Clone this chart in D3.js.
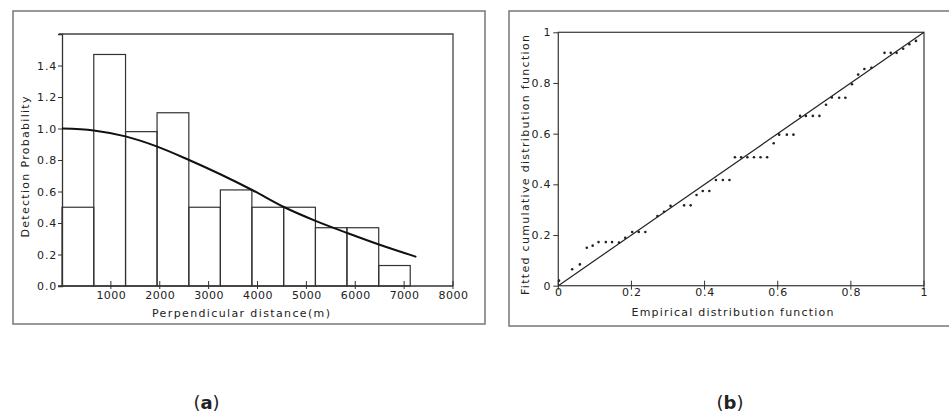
<!DOCTYPE html>
<html>
<head>
<meta charset="utf-8">
<script src="https://cdn.jsdelivr.net/npm/d3@7"></script>
<style>
  html, body { margin: 0; padding: 0; background: #fff; }
  svg { display: block; }
  text { font-family: "DejaVu Sans", sans-serif; fill: #222; }
</style>
</head>
<body>
<svg id="chart" width="949" height="414"></svg>
<script>
// ---------- Data: panel (a) histogram of perpendicular distances ----------
const binEdges = [0, 650, 1300, 1945, 2595, 3240, 3885, 4535, 5185, 5830, 6480, 7125];
const binValues = [0.50, 1.47, 0.98, 1.10, 0.50, 0.61, 0.50, 0.50, 0.37, 0.37, 0.13];
// fitted detection function
const curveDist = [0, 650, 1300, 1950, 2600, 3250, 3900, 4550, 5200, 5850, 6500, 7250];
const curveProb = [1.00, 0.988, 0.95, 0.885, 0.80, 0.708, 0.608, 0.50, 0.412, 0.335, 0.262, 0.185];
const yTicksA = [0, 0.2, 0.4, 0.6, 0.8, 1.0, 1.2, 1.4];
const xTicksA = [1000, 2000, 3000, 4000, 5000, 6000, 7000, 8000];

// ---------- Data: panel (b) P-P plot ----------
const empirical = [0.002,0.038,0.059,0.078,0.094,0.110,0.130,0.147,0.166,0.183,0.202,0.220,0.238,0.271,0.289,0.307,0.344,0.362,0.378,0.395,0.413,0.431,0.450,0.468,0.483,0.500,0.517,0.535,0.553,0.571,0.589,0.604,0.625,0.643,0.661,0.677,0.696,0.714,0.732,0.748,0.768,0.785,0.803,0.820,0.837,0.856,0.892,0.909,0.925,0.943,0.960,0.978];
const fitted = [0.02,0.065,0.084,0.15,0.158,0.172,0.172,0.172,0.170,0.189,0.212,0.212,0.212,0.275,0.292,0.315,0.317,0.317,0.358,0.374,0.374,0.417,0.417,0.417,0.507,0.507,0.507,0.507,0.507,0.507,0.562,0.596,0.596,0.596,0.670,0.670,0.670,0.670,0.714,0.743,0.742,0.742,0.795,0.833,0.855,0.860,0.919,0.919,0.919,0.935,0.953,0.966];
const ticksB = [0, 0.2, 0.4, 0.6, 0.8, 1];

const svg = d3.select("#chart");
const FS = 11;

// ================= Panel (a) =================
const A = { left: 62, right: 453, top: 34, bottom: 286 };
const xA = d3.scaleLinear().domain([0, 8000]).range([A.left, A.right]);
const yA = d3.scaleLinear().domain([0, 1.6]).range([A.bottom, A.top]);

// outer panel border
svg.append("rect").attr("x", 13).attr("y", 11).attr("width", 472).attr("height", 313)
  .attr("fill", "none").attr("stroke", "#777").attr("stroke-width", 1.5);

// plot frame
svg.append("path")
  .attr("d", `M${A.left - 3},${A.top}H${A.right}V${A.bottom}`)
  .attr("fill", "none").attr("stroke", "#444").attr("stroke-width", 1.3);

// histogram bars
const bins = binValues.map((v, i) => ({ x0: binEdges[i], x1: binEdges[i + 1], v }));
svg.append("g").selectAll("rect").data(bins).join("rect")
  .attr("x", d => xA(d.x0)).attr("width", d => xA(d.x1) - xA(d.x0))
  .attr("y", d => yA(d.v)).attr("height", d => yA(0) - yA(d.v))
  .attr("fill", "none").attr("stroke", "#333").attr("stroke-width", 1.2);

// left axis
const gYA = svg.append("g").attr("transform", `translate(${A.left},0)`)
  .call(d3.axisLeft(yA).tickValues(yTicksA).tickFormat(d3.format(".1f")).tickSize(4).tickPadding(1));
gYA.select(".domain").attr("stroke", "#333").attr("stroke-width", 1.3);
gYA.selectAll(".tick line").attr("stroke", "#333");
gYA.selectAll("text").attr("font-size", FS).attr("letter-spacing", 0.8).attr("fill", "#222")
  .attr("font-family", "DejaVu Sans");

// bottom axis
const gXA = svg.append("g").attr("transform", `translate(0,${A.bottom})`)
  .call(d3.axisBottom(xA).tickValues(xTicksA).tickFormat(d3.format("d")).tickSize(0).tickPadding(5));
gXA.select(".domain").remove();
gXA.selectAll("text").attr("font-size", FS).attr("letter-spacing", 0.5).attr("fill", "#222")
  .attr("font-family", "DejaVu Sans");
svg.append("line").attr("x1", A.left - 4).attr("x2", A.right).attr("y1", A.bottom).attr("y2", A.bottom)
  .attr("stroke", "#333").attr("stroke-width", 1.3);
svg.append("g").selectAll("line").data(xTicksA).join("line")
  .attr("x1", d => xA(d)).attr("x2", d => xA(d))
  .attr("y1", A.bottom - 5).attr("y2", A.bottom + 3)
  .attr("stroke", "#333");

// fitted curve
const curvePts = curveDist.map((d, i) => [d, curveProb[i]]);
svg.append("path").datum(curvePts)
  .attr("d", d3.line().x(d => xA(d[0])).y(d => yA(d[1])).curve(d3.curveCatmullRom.alpha(0.5)))
  .attr("fill", "none").attr("stroke", "#111").attr("stroke-width", 2);

// axis titles
svg.append("text").attr("x", 241).attr("y", 317).attr("text-anchor", "middle")
  .attr("font-size", FS).attr("textLength", 178).attr("lengthAdjust", "spacing")
  .text("Perpendicular distance(m)");
svg.append("text").attr("transform", "translate(28.5,167) rotate(-90)").attr("text-anchor", "middle")
  .attr("font-size", FS).attr("textLength", 141).attr("lengthAdjust", "spacing")
  .text("Detection Probability");

// ================= Panel (b) =================
const B = { left: 558.3, right: 924, top: 32.3, bottom: 285.7 };
const xB = d3.scaleLinear().domain([0, 1]).range([B.left, B.right]);
const yB = d3.scaleLinear().domain([0, 1]).range([B.bottom, B.top]);

svg.append("rect").attr("x", 509).attr("y", 11).attr("width", 460).attr("height", 315)
  .attr("fill", "none").attr("stroke", "#777").attr("stroke-width", 1.5);

svg.append("rect").attr("x", B.left).attr("y", B.top)
  .attr("width", B.right - B.left).attr("height", B.bottom - B.top)
  .attr("fill", "none").attr("stroke", "#444").attr("stroke-width", 1.3);

const gYB = svg.append("g").attr("transform", `translate(${B.left},0)`)
  .call(d3.axisLeft(yB).tickValues(ticksB).tickFormat(d3.format("~g")).tickSize(5).tickPadding(2));
gYB.select(".domain").remove();
gYB.selectAll(".tick line").attr("stroke", "#333");
gYB.selectAll("text").attr("font-size", FS).attr("letter-spacing", 0.8).attr("fill", "#222")
  .attr("font-family", "DejaVu Sans");

const gXB = svg.append("g").attr("transform", `translate(0,${B.bottom})`)
  .call(d3.axisBottom(xB).tickValues(ticksB).tickFormat(d3.format("~g")).tickSize(0).tickPadding(3));
gXB.select(".domain").remove();
gXB.selectAll("text").attr("font-size", FS).attr("letter-spacing", 0.8).attr("fill", "#222")
  .attr("font-family", "DejaVu Sans");
svg.append("g").selectAll("line").data(ticksB).join("line")
  .attr("x1", d => xB(d)).attr("x2", d => xB(d))
  .attr("y1", B.bottom - 5).attr("y2", B.bottom + 4)
  .attr("stroke", "#333");

// reference diagonal
svg.append("line").attr("x1", xB(0)).attr("y1", yB(0)).attr("x2", xB(1)).attr("y2", yB(1))
  .attr("stroke", "#222").attr("stroke-width", 1.2);

// points
const pts = empirical.map((e, i) => [e, fitted[i]]);
svg.append("g").selectAll("circle").data(pts).join("circle")
  .attr("cx", d => xB(d[0])).attr("cy", d => yB(d[1])).attr("r", 1.3)
  .attr("fill", "#222");

svg.append("text").attr("x", 732.5).attr("y", 316).attr("text-anchor", "middle")
  .attr("font-size", FS).attr("textLength", 202).attr("lengthAdjust", "spacing")
  .text("Empirical distribution function");
svg.append("text").attr("transform", "translate(528.5,165) rotate(-90)").attr("text-anchor", "middle")
  .attr("font-size", FS).attr("textLength", 260).attr("lengthAdjust", "spacing")
  .text("Fitted cumulative distribution function");

// ================= Sub-figure labels =================
function subLabel(x, letter) {
  const t = svg.append("text").attr("x", x).attr("y", 409).attr("text-anchor", "middle")
    .attr("font-family", "Liberation Serif, serif").attr("font-size", 18).attr("fill", "#111");
  t.append("tspan").text("(");
  t.append("tspan").attr("font-weight", "bold").text(letter);
  t.append("tspan").text(")");
}
subLabel(206.5, "a");
subLabel(730, "b");
</script>
</body>
</html>
